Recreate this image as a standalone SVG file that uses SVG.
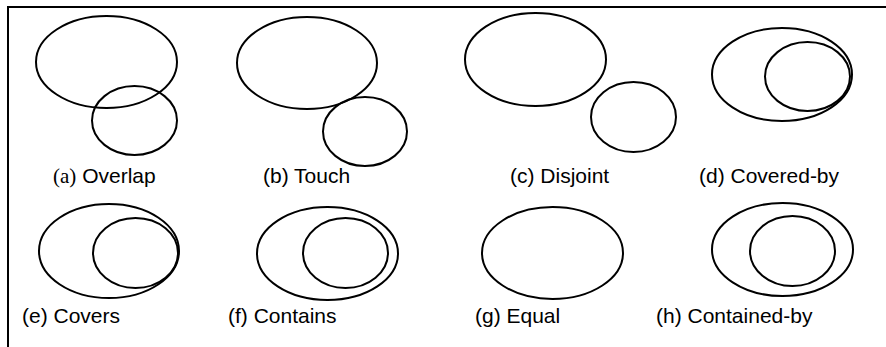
<svg xmlns="http://www.w3.org/2000/svg" width="886" height="347" viewBox="0 0 886 347">
  <style>
    .shape { fill: none; stroke: #000; stroke-width: 2; }
    .frame { fill: none; stroke: #000; stroke-width: 2; }
    .label { font-family: "Liberation Sans", Arial, sans-serif; font-size: 21px; fill: #000; }
    .serif { font-family: "Liberation Serif", "Times New Roman", serif; }
  </style>
  <rect width="886" height="347" fill="#fff"/>

  <!-- open frame: top and left edges -->
  <path class="frame" d="M8,347 V7 H886"/>

  <!-- (a) Overlap -->
  <g id="overlap">
    <ellipse class="shape" cx="106.5" cy="62" rx="70.5" ry="46"/>
    <ellipse class="shape" cx="134.5" cy="120.5" rx="42.5" ry="34.5"/>
    <text class="label" x="53" y="183"><tspan class="serif">(a)</tspan> Overlap</text>
  </g>

  <!-- (b) Touch -->
  <g id="touch">
    <ellipse class="shape" cx="307" cy="63" rx="70" ry="46"/>
    <ellipse class="shape" cx="365" cy="131.5" rx="42" ry="34.5"/>
    <text class="label" x="263" y="183">(b) Touch</text>
  </g>

  <!-- (c) Disjoint -->
  <g id="disjoint">
    <ellipse class="shape" cx="535.5" cy="59.5" rx="70.5" ry="46.5"/>
    <ellipse class="shape" cx="633.5" cy="117" rx="42.5" ry="35"/>
    <text class="label" x="510" y="183">(c) Disjoint</text>
  </g>

  <!-- (d) Covered-by -->
  <g id="covered-by">
    <ellipse class="shape" cx="782" cy="74.5" rx="70" ry="46.5"/>
    <ellipse class="shape" cx="807.5" cy="76.5" rx="42.5" ry="34.5"/>
    <text class="label" x="699" y="183">(d) Covered-by</text>
  </g>

  <!-- (e) Covers -->
  <g id="covers">
    <ellipse class="shape" cx="109" cy="251" rx="70" ry="47"/>
    <ellipse class="shape" cx="135.5" cy="253" rx="42.5" ry="35"/>
    <text class="label" x="22" y="323">(e) Covers</text>
  </g>

  <!-- (f) Contains -->
  <g id="contains">
    <ellipse class="shape" cx="327.5" cy="253.5" rx="70.5" ry="46.5"/>
    <ellipse class="shape" cx="345.5" cy="253" rx="42.5" ry="35"/>
    <text class="label" x="228" y="323">(f) Contains</text>
  </g>

  <!-- (g) Equal -->
  <g id="equal">
    <ellipse class="shape" cx="552.5" cy="253" rx="70.5" ry="46"/>
    <text class="label" x="475" y="323">(g) Equal</text>
  </g>

  <!-- (h) Contained-by -->
  <g id="contained-by">
    <ellipse class="shape" cx="782.5" cy="249.5" rx="70.5" ry="46.5"/>
    <ellipse class="shape" cx="792.5" cy="251" rx="42.5" ry="35"/>
    <text class="label" x="656" y="323">(h) Contained-by</text>
  </g>

  <g id="connectors"/>
</svg>
